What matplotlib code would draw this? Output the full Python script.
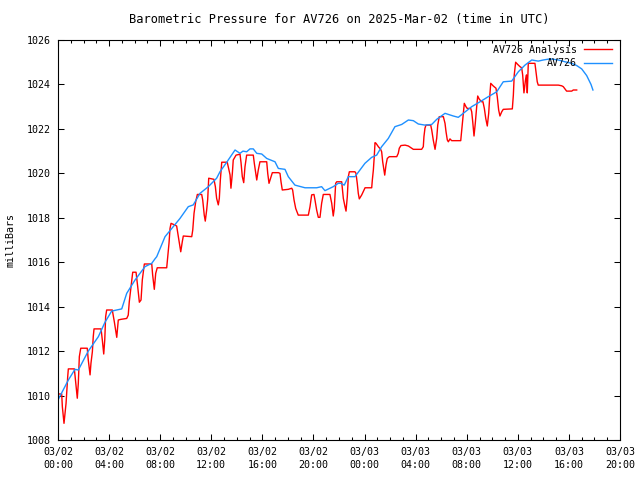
import matplotlib
matplotlib.use("Agg")
import matplotlib.pyplot as plt
from matplotlib.ticker import MultipleLocator

# hours since 2025-03-02 00:00 UTC, pressure in millibars
analysis_hours = [
    0.02, 0.29, 0.34, 0.47, 0.55, 0.63, 0.76, 0.81, 1.28, 1.39, 1.51, 1.59, 1.67, 1.78,
    2.29, 2.37, 2.51, 2.58, 2.69, 2.76, 2.82, 3.37, 3.47, 3.58, 3.66, 3.73, 3.81, 4.25,
    4.41, 4.60, 4.72, 4.93, 5.38, 5.50, 5.58, 5.72, 5.85, 6.11, 6.24, 6.37, 6.50, 6.60,
    6.76, 7.34, 7.41, 7.54, 7.65, 7.77, 8.51, 8.59, 8.69, 8.77, 8.85, 9.16, 9.29, 9.42,
    9.61, 9.73, 9.81, 10.47, 10.55, 10.65, 10.78, 10.91, 11.25, 11.33, 11.45, 11.53,
    11.64, 11.72, 11.80, 12.21, 12.32, 12.42, 12.55, 12.63, 12.71, 12.82, 13.25, 13.33,
    13.47, 13.54, 13.65, 13.72, 13.94, 14.25, 14.33, 14.43, 14.54, 14.64, 14.77, 15.29,
    15.37, 15.50, 15.56, 15.68, 15.81, 16.34, 16.42, 16.52, 16.68, 16.78, 17.25, 17.38,
    17.46, 17.56, 18.03, 18.30, 18.37, 18.48, 18.61, 18.81, 19.60, 19.73, 19.86, 20.04,
    20.12, 20.25, 20.38, 20.51, 20.64, 20.77, 21.29, 21.43, 21.55, 21.63, 21.74, 21.82,
    22.21, 22.34, 22.47, 22.55, 22.65, 22.73, 22.81, 23.25, 23.33, 23.43, 23.51, 23.59,
    23.78, 24.04, 24.56, 24.61, 24.69, 24.76, 24.82, 24.90, 25.08, 25.26, 25.34, 25.42,
    25.52, 25.58, 25.68, 25.78, 25.94, 26.52, 26.64, 26.72, 26.85, 27.17, 27.43, 27.69,
    27.82, 28.47, 28.60, 28.65, 28.73, 28.81, 29.18, 29.26, 29.38, 29.52, 29.65, 29.73,
    29.85, 30.17, 30.30, 30.38, 30.48, 30.56, 30.69, 30.82, 31.53, 31.61, 31.73, 31.81,
    31.94, 32.04, 32.31, 32.39, 32.47, 32.57, 32.67, 32.78, 32.86, 32.99, 33.17, 33.27,
    33.38, 33.49, 33.61, 33.72, 33.80, 33.88, 34.08, 34.29, 34.39, 34.50, 34.60, 34.74,
    34.86, 35.57, 35.65, 35.72, 35.83, 35.99, 36.17, 36.30, 36.38, 36.48, 36.60, 36.68,
    36.74, 36.82, 37.34, 37.42, 37.52, 37.60, 39.17, 39.43, 39.56, 39.82, 40.22, 40.34,
    40.61,
]
analysis_mb = [
    1010.07, 1010.07, 1009.50, 1008.75, 1009.20, 1009.65, 1010.85, 1011.20, 1011.20, 1010.55,
    1009.88, 1010.55, 1011.75, 1012.13, 1012.13, 1011.60, 1010.93, 1011.45, 1011.97, 1012.65,
    1013.00, 1013.00, 1012.50, 1011.87, 1012.50, 1013.55, 1013.85, 1013.85, 1013.32, 1012.62,
    1013.40, 1013.43, 1013.47, 1013.62, 1014.22, 1014.90, 1015.55, 1015.55, 1014.90, 1014.20,
    1014.30, 1015.20, 1015.92, 1015.92, 1015.43, 1014.78, 1015.50, 1015.75, 1015.75, 1016.25,
    1016.85, 1017.52, 1017.75, 1017.67, 1017.63, 1017.15, 1016.47, 1016.92, 1017.18, 1017.15,
    1017.45, 1018.20, 1018.72, 1019.05, 1019.05, 1018.80, 1018.12, 1017.85, 1018.35, 1018.83,
    1019.78, 1019.73, 1019.40, 1018.87, 1018.58, 1018.87, 1019.70, 1020.50, 1020.50, 1020.30,
    1019.93, 1019.33, 1020.00, 1020.60, 1020.82, 1020.86, 1020.48, 1019.85, 1019.58, 1020.30,
    1020.82, 1020.82, 1020.45, 1019.93, 1019.70, 1020.15, 1020.52, 1020.52, 1020.00, 1019.55,
    1019.85, 1020.03, 1020.03, 1020.00, 1019.62, 1019.25, 1019.28, 1019.33, 1019.25, 1018.80,
    1018.42, 1018.12, 1018.12, 1018.50, 1019.03, 1019.05, 1018.80, 1018.35, 1018.02, 1018.02,
    1018.65, 1019.05, 1019.05, 1018.65, 1018.08, 1018.42, 1019.55, 1019.62, 1019.62, 1018.87,
    1018.50, 1018.30, 1018.95, 1019.85, 1020.07, 1020.07, 1020.00, 1019.55, 1019.10, 1018.85,
    1019.03, 1019.35, 1019.35, 1019.70, 1020.15, 1020.75, 1021.38, 1021.35, 1021.20, 1021.08,
    1020.97, 1020.52, 1020.15, 1019.92, 1020.38, 1020.67, 1020.75, 1020.75, 1020.90, 1021.13,
    1021.25, 1021.27, 1021.23, 1021.13, 1021.08, 1021.08, 1021.20, 1021.65, 1022.03, 1022.17,
    1022.17, 1021.95, 1021.50, 1021.08, 1021.58, 1022.17, 1022.55, 1022.55, 1022.25, 1021.87,
    1021.50, 1021.42, 1021.55, 1021.47, 1021.47, 1021.95, 1022.70, 1023.15, 1023.00, 1022.92,
    1022.92, 1022.77, 1022.32, 1021.68, 1022.25, 1023.00, 1023.48, 1023.33, 1023.22, 1023.22,
    1022.92, 1022.47, 1022.13, 1022.70, 1023.45, 1024.05, 1023.93, 1023.83, 1023.45, 1022.85,
    1022.58, 1022.77, 1022.88, 1022.90, 1023.52, 1024.43, 1025.00, 1024.90, 1024.80, 1024.75,
    1024.43, 1023.62, 1024.20, 1024.43, 1023.62, 1024.95, 1024.95, 1024.57, 1024.12, 1023.97,
    1023.97, 1023.94, 1023.90, 1023.70, 1023.70, 1023.75, 1023.75,
]

station_hours = [
    0.00, 0.81, 1.33, 1.59, 2.37, 3.16, 3.68, 4.20, 4.99, 5.38, 6.03, 6.81, 7.34, 7.59,
    7.73, 8.38, 9.55, 10.20, 10.59, 11.12, 11.77, 12.42, 12.68, 13.21, 13.86, 14.25,
    14.48, 14.77, 15.03, 15.29, 15.56, 15.95, 16.34, 16.99, 17.25, 17.77, 18.03, 18.55,
    19.34, 20.25, 20.64, 20.90, 21.55, 21.94, 22.15, 22.41, 22.73, 23.25, 23.64, 24.03,
    24.56, 24.95, 25.34, 25.86, 26.38, 26.91, 27.43, 27.82, 28.21, 28.73, 29.26, 29.65,
    30.30, 30.95, 31.34, 31.73, 32.39, 33.04, 33.69, 34.35, 34.86, 35.52, 36.04, 36.56,
    37.09, 37.60, 37.99, 38.52, 39.17, 39.69, 40.22, 40.61, 41.00, 41.39, 41.73, 41.88,
]
station_mb = [
    1009.80, 1010.70, 1011.18, 1011.15, 1012.00, 1012.65, 1013.30, 1013.80, 1013.90, 1014.60,
    1015.20, 1015.80, 1015.95, 1016.15, 1016.25, 1017.15, 1017.97, 1018.50, 1018.58, 1019.10,
    1019.40, 1019.78, 1020.07, 1020.50, 1021.05, 1020.90, 1021.00, 1020.97, 1021.10, 1021.10,
    1020.90, 1020.87, 1020.67, 1020.52, 1020.22, 1020.18, 1019.85, 1019.47, 1019.35, 1019.35,
    1019.40, 1019.22, 1019.40, 1019.55, 1019.55, 1019.47, 1019.85, 1019.85, 1020.15, 1020.45,
    1020.72, 1020.82, 1021.20, 1021.57, 1022.10, 1022.20, 1022.40, 1022.37, 1022.22, 1022.17,
    1022.20, 1022.43, 1022.70, 1022.58, 1022.52, 1022.70, 1023.00, 1023.22, 1023.45, 1023.67,
    1024.12, 1024.15, 1024.57, 1024.87, 1025.10, 1025.05, 1025.10, 1025.15, 1025.10, 1025.02,
    1024.95, 1024.85, 1024.70, 1024.40, 1024.00, 1023.75,
]

tick_hours = [0, 4, 8, 12, 16, 20, 24, 28, 32, 36, 40, 44]
tick_labels = ["03/02\n00:00", "03/02\n04:00", "03/02\n08:00", "03/02\n12:00",
               "03/02\n16:00", "03/02\n20:00", "03/03\n00:00", "03/03\n04:00",
               "03/03\n08:00", "03/03\n12:00", "03/03\n16:00", "03/03\n20:00"]

plt.rcParams['font.family'] = ['DejaVu Sans Mono']
plt.rcParams['font.size'] = 7.2

fig = plt.figure(figsize=(6.4, 4.8), dpi=100)
ax = fig.add_axes([58 / 640, 40 / 480, 562 / 640, 400 / 480])

ax.plot(analysis_hours, analysis_mb, color='#ff0000', lw=1.0, label='AV726 Analysis')
ax.plot(station_hours, station_mb, color='#1e90ff', lw=1.0, label='AV726')

ax.set_xlim(0, 44)
ax.set_ylim(1008, 1026)
ax.set_xticks(tick_hours)
ax.set_xticklabels(tick_labels, linespacing=1.35)
ax.xaxis.set_minor_locator(MultipleLocator(1))
ax.yaxis.set_major_locator(MultipleLocator(2))

ax.tick_params(which='both', direction='in', top=True, right=True, width=0.75, color='black')
ax.tick_params(which='major', length=4.5)
ax.tick_params(which='minor', length=2.5)
ax.tick_params(axis='x', pad=5)
ax.tick_params(axis='y', pad=5)
for s in ax.spines.values():
    s.set_linewidth(0.8)

ax.set_ylabel('milliBars')
ax.yaxis.set_label_coords(-0.076, 0.5)
ax.set_title('Barometric Pressure for AV726 on 2025-Mar-02 (time in UTC)', pad=12)

ax.legend(loc='upper right', bbox_to_anchor=(0.995, 1.0), frameon=False, markerfirst=False,
          handlelength=2.8, handletextpad=0.7, labelspacing=0.35, borderaxespad=0.3,
          borderpad=0.2)

fig.savefig('out.png', dpi=100)
